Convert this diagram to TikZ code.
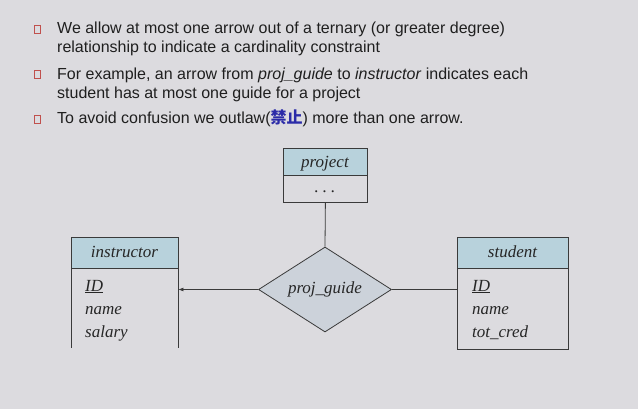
\documentclass[tikz,border=0pt]{standalone}
\usepackage{fontspec}
\setmainfont{Liberation Serif}
\newfontfamily\arialf{Liberation Sans}
\newfontfamily\cjk{Noto Sans CJK SC}
\usetikzlibrary{shapes.geometric,arrows.meta}
\definecolor{bg}{HTML}{DCDBDF}
\definecolor{hdrc}{HTML}{B8D2DC}
\definecolor{relc}{HTML}{CCD2DA}
\definecolor{linec}{HTML}{3A3A3A}
\definecolor{bulc}{HTML}{C0504D}
\definecolor{cjkblue}{HTML}{2B2BA8}
\begin{document}
\begin{tikzpicture}[x=1pt,y=-1pt,
  txt/.style={anchor=base west,inner sep=0pt,font=\arialf\fontsize{16}{19}\selectfont,text=black!88},
  bul/.style={draw=bulc,line width=1pt,minimum width=6pt,minimum height=8pt,inner sep=0pt,anchor=north west},
  hdr/.style={draw=linec,line width=0.8pt,fill=hdrc,inner sep=0pt,anchor=north west},
  bodyb/.style={fill=bg,inner sep=0pt,anchor=north west},
  lbl/.style={inner sep=0pt,anchor=base,font=\itshape\fontsize{17}{20}\selectfont,text=black!85},
  attr/.style={inner sep=0pt,anchor=base west,font=\itshape\fontsize{17}{20}\selectfont,text=black!85},
  conn/.style={draw=linec,line width=0.8pt}]
\path[fill=bg] (0,0) rectangle (638,409);
\useasboundingbox (0,0) rectangle (638,409);
% bullets
\node[bul] (b1) at (33.5,25.5) {};
\node[bul] (b2) at (33.5,70.5) {};
\node[bul] (b3) at (33.5,115.5) {};
% text
\node[txt] (t1) at (57,34) {We allow at most one arrow out of a ternary (or greater degree)};
\node[txt] (t2) at (57,53) {relationship to indicate a cardinality constraint};
\node[txt] (t3) at (57,80) {For example, an arrow from \textit{proj\_guide} to \textit{instructor} indicates each};
\node[txt] (t4) at (57,99) {student has at most one guide for a project};
\node[txt] (t5) at (57,124) {To avoid confusion we outlaw({\cjk\bfseries\color{cjkblue}禁止}) more than one arrow.};
% project
\node[hdr,fill=bg,minimum width=84pt,minimum height=27pt] (projb) at (283,175) {};
\node[hdr,minimum width=84pt,minimum height=27pt] (projh) at (283,148) {};
\node[lbl] (projl) at (325,168) {project};
\node[lbl] (projd) at (325,193) {.\hspace{4pt}.\hspace{4pt}.};
% instructor
\node[bodyb,minimum width=107pt,minimum height=80pt] (instb) at (71,268) {};
\draw[conn] (instb.north west) -- (instb.south west);
\draw[conn] (instb.north east) -- (instb.south east);
\node[hdr,minimum width=107pt,minimum height=31pt] (insth) at (71,237) {};
\node[lbl] (instl) at (124.5,258) {instructor};
\node[attr] (inst1) at (85,291) {\underline{ID}};
\node[attr] (inst2) at (85,314) {name};
\node[attr] (inst3) at (85,337) {salary};
% student
\node[hdr,fill=bg,minimum width=111pt,minimum height=81pt] (studb) at (457,268) {};
\node[hdr,minimum width=111pt,minimum height=31pt] (studh) at (457,237) {};
\node[lbl] (studl) at (512.5,258) {student};
\node[attr] (stud1) at (472,291) {\underline{ID}};
\node[attr] (stud2) at (472,314) {name};
\node[attr] (stud3) at (472,337) {tot\_cred};
% relationship
\node[diamond,draw=linec,line width=0.8pt,fill=relc,inner sep=0pt,minimum width=133pt,minimum height=85pt] (pg) at (325,289.5) {};
\node[lbl] (pgl) at (325,293) {proj\_guide};
% connectors
\draw[conn] (projb.south) -- (pg.north);
\draw[conn,-{Latex[length=5pt,width=4pt]}] (pg.west) -- (pg.west -| instb.east);
\draw[conn] (pg.east) -- (pg.east -| studb.west);
\end{tikzpicture}
\end{document}
